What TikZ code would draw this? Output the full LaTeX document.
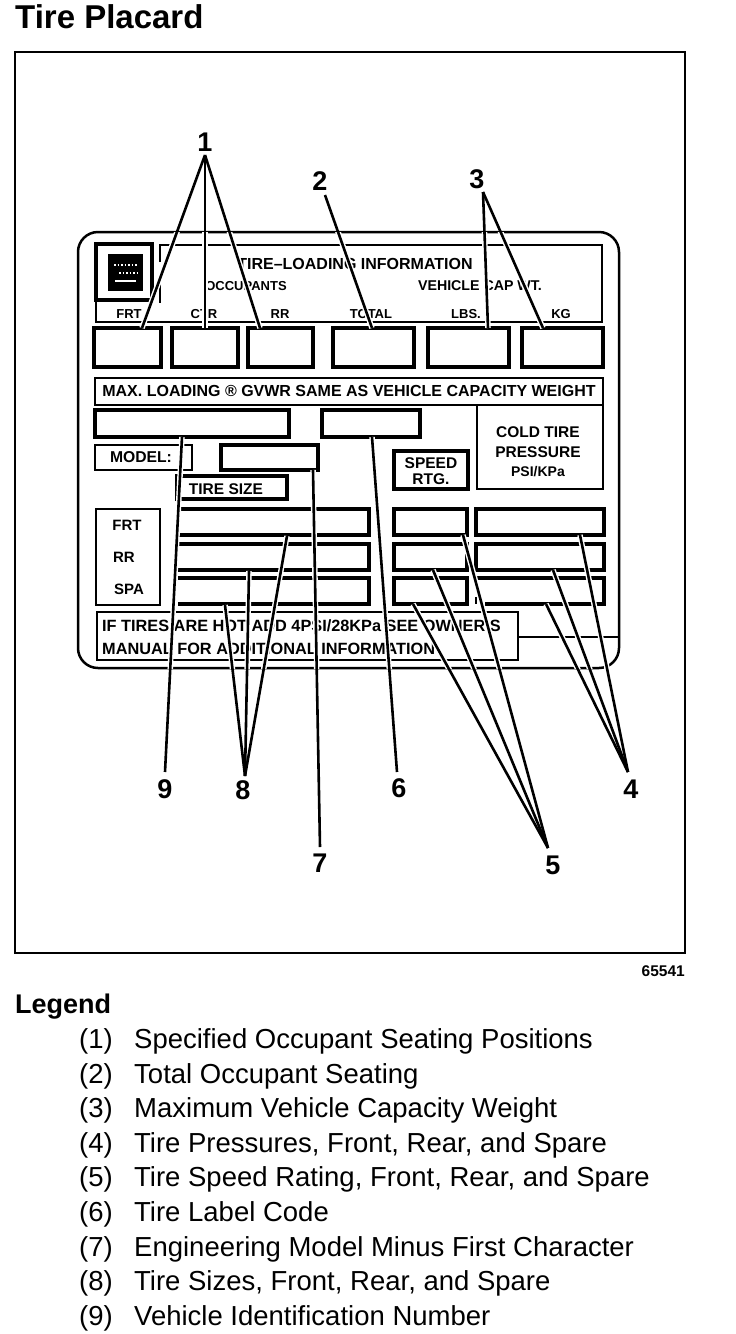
\documentclass[tikz,border=0pt]{standalone}
\usepackage{fontspec}
\setmainfont{Liberation Sans}
\newcommand{\fs}[1]{\fontsize{#1}{#1}\selectfont}
\tikzset{
  heavy/.style={draw=black,line width=3.5pt,fill=none,inner sep=0pt,outer sep=0pt,anchor=north west},
  thinbox/.style={draw=black,line width=2.5pt,fill=none,inner sep=0pt,outer sep=0pt,anchor=north west},
  ghost/.style={inner sep=0pt,outer sep=0pt,anchor=north west},
  plab/.style={font=\fs{13}\bfseries,inner sep=0pt,text=black},
  mlab/.style={font=\fs{16}\bfseries,inner sep=0pt,text=black},
  call/.style={font=\fs{27}\bfseries,inner sep=0pt,text=black},
  legnum/.style={font=\fs{27.5},inner sep=0pt,anchor=base west},
  halo/.style={draw=white,line width=5.5pt},
  leader/.style={draw=black,line width=2.6pt},
}
% style, name, x1, y1, x2, y2
\newcommand{\bx}[6]{\node[#1,minimum width={(#5-#3)*1pt},minimum height={(#6-#4)*1pt}] (#2) at (#3,#4) {};}
\newcommand{\leaderpaths}[1]{%
  \path[#1] (l1a) -- ([xshift=48pt]bfrt.north west);
  \path[#1] (l1a) -- ([xshift=33pt]bctr.north west);
  \path[#1] (l1a) -- ([xshift=12pt]brr.north west);
  \path[#1] (l2a) -- ([xshift=39pt]btot.north west);
  \path[#1] (l3a) -- ([xshift=60pt]blbs.north west);
  \path[#1] (l3a) -- ([xshift=21pt]bkg.north west);
  \path[#1] (l4a) -- ([xshift=104pt]pa.south west);
  \path[#1] (l4a) -- ([xshift=77pt]pb.south west);
  \path[#1] (l4a) -- ([xshift=70pt]pc.south west);
  \path[#1] (l5a) -- ([xshift=69pt]sa.south west);
  \path[#1] (l5a) -- ([xshift=39pt]sb.south west);
  \path[#1] (l5a) -- ([xshift=19pt]sc.south west);
  \path[#1] ([xshift=50pt]btl.south west) -- (l6a);
  \path[#1] ([xshift=92pt]bmod.south west) -- (l7a);
  \path[#1] (l8a) -- (t1);
  \path[#1] (l8a) -- (t2);
  \path[#1] (l8a) -- (t3);
  \path[#1] ([xshift=87pt]bvin.south west) -- (l9a);
}
\begin{document}
\begin{tikzpicture}[x=1pt,y=-1pt]
\useasboundingbox (0,0) rectangle (736,1334);
\fill[white] (0,0) rectangle (736,1334);
\node[font=\fs{33}\bfseries,anchor=base west,inner sep=0pt] (title) at (15,28) {Tire Placard};
\node[thinbox,minimum width=670pt,minimum height=901pt] (frame) at (15,52) {};
\node[font=\fs{15.5}\bfseries,anchor=base east,inner sep=0pt] (code) at (685,976) {65541};
% panel
\node[thinbox,rounded corners=20pt,minimum width=541pt,minimum height=436pt] (panel) at (78,232) {};
% header
\draw[line width=2.5pt] (160,262) -- (160,245) -- (602,245) -- (602,322) -- (96,322) -- (96,302);
\draw[line width=2.5pt] (160,283) -- (160,303);
\bx{heavy}{logo}{96}{244}{152}{300}
\fill[black] (108,254) rectangle (143,291);
\draw[white,line width=1.5pt] (115,281) -- (136,281);
\draw[white,line width=1.5pt,dotted] (114,265) -- (137,265);
\draw[white,line width=1.5pt,dotted] (119,273) -- (137,273);
\node[mlab] (hd) at (355,264) {TIRE–LOADING INFORMATION};
\node[plab] (occ) at (246,286) {OCCUPANTS};
\node[plab,font=\fs{14.2}\bfseries] (veh) at (480,286) {VEHICLE CAP WT.};
\node[plab] (tfrt) at (129,314) {FRT};
\node[plab] (tctr) at (204,314) {CTR};
\node[plab] (trr) at (280,314) {RR};
\node[plab] (ttot) at (371,314) {TOTAL};
\node[plab] (tlbs) at (466,314) {LBS.};
\node[plab] (tkg) at (561,314) {KG};
\bx{heavy}{bfrt}{94}{328}{161}{367}
\bx{heavy}{bctr}{172}{328}{238}{367}
\bx{heavy}{brr}{248}{328}{313}{367}
\bx{heavy}{btot}{333}{328}{414}{367}
\bx{heavy}{blbs}{428}{328}{509}{367}
\bx{heavy}{bkg}{522}{328}{603}{367}
% max loading
\bx{thinbox}{bmax}{95}{378}{603}{405}
\node[mlab] (tmax) at (349,391) {MAX. LOADING ® GVWR SAME AS VEHICLE CAPACITY WEIGHT};
\draw[line width=2.5pt] (477,405) -- (477,489) -- (603,489) -- (603,405);
\node[font=\fs{15.5}\bfseries,inner sep=0pt,align=center] (cold) at (538,452) {COLD TIRE\\[4pt]PRESSURE\\[4pt]{\fs{14}PSI/KPa}};
\bx{heavy}{bvin}{95}{410}{289}{437}
\bx{heavy}{btl}{322}{410}{420}{437}
\bx{thinbox}{bmodel}{95}{445}{192}{470}
\node[font=\fs{15.7}\bfseries,inner sep=0pt] (tmod) at (141,457) {MODEL:};
\bx{heavy}{bmod}{221}{445}{318}{470}
\bx{heavy}{bspd}{394}{451}{468}{489}
\node[font=\fs{15.5}\bfseries,inner sep=0pt,align=center] (tspd) at (431,471) {SPEED\\[1pt]RTG.};
\bx{heavy}{btsz}{177}{476}{287}{499}
\node[font=\fs{15.5}\bfseries,inner sep=0pt] (ttsz) at (226,489) {TIRE SIZE};
\bx{thinbox}{brow}{96}{509}{160}{605}
\node[font=\fs{15}\bfseries,inner sep=0pt] (rf) at (127,525) {FRT};
\node[font=\fs{15}\bfseries,inner sep=0pt] (rr) at (124,557) {RR};
\node[font=\fs{15}\bfseries,inner sep=0pt] (rs) at (129,589) {SPA};
% tyre-size rows (open left)
\draw[line width=3.5pt] (178,509) -- (369,509) -- (369,535) -- (178,535);
\draw[line width=3.5pt] (178,544) -- (369,544) -- (369,570) -- (178,570);
\draw[line width=3.5pt] (178,578) -- (369,578) -- (369,604) -- (178,604);
\coordinate (t1) at (287,536);
\coordinate (t2) at (249,571);
\coordinate (t3) at (225,605);
\bx{heavy}{sa}{394}{509}{467}{535}
\bx{heavy}{sb}{394}{544}{467}{570}
\bx{heavy}{sc}{394}{578}{467}{604}
\bx{heavy}{pa}{476}{509}{604}{535}
\bx{heavy}{pb}{476}{544}{604}{570}
\bx{ghost}{pc}{476}{578}{604}{604}
\draw[line width=3.5pt] (476,578) -- (604,578) -- (604,604) -- (485,604);
\draw[line width=2.5pt] (476,597) -- (476,604);
% bottom note
\draw[line width=2.5pt] (619,637) -- (518,637);
\bx{thinbox}{bnote}{97}{612}{518}{660}
\node[mlab,font=\fs{16.3}\bfseries,anchor=base west] (n1) at (102,631) {IF TIRES ARE HOT ADD 4PSI/28KPa SEE OWNER'S};
\node[mlab,font=\fs{16.3}\bfseries,anchor=base west] (n2) at (102,654) {MANUAL FOR ADDITIONAL INFORMATION};
% callouts
\node[call] (l1) at (205,142) {1};
\node[call] (l2) at (320,181) {2};
\node[call] (l3) at (477,179) {3};
\node[call] (l4) at (631,789) {4};
\node[call] (l5) at (553,865) {5};
\node[call] (l6) at (399,788) {6};
\node[call] (l7) at (320,863) {7};
\node[call] (l8) at (243,790) {8};
\node[call] (l9) at (165,789) {9};
\coordinate (l1a) at (205,155);
\coordinate (l2a) at (325,195);
\coordinate (l3a) at (483,192);
\coordinate (l4a) at (628,772);
\coordinate (l5a) at (548,848);
\coordinate (l6a) at (397,772);
\coordinate (l7a) at (320,847);
\coordinate (l8a) at (245,776);
\coordinate (l9a) at (165,772);
\begin{scope}
\clip (78,232) rectangle (619,668);
\leaderpaths{halo}
\end{scope}
\leaderpaths{leader}
% legend
\node[font=\fs{27}\bfseries,anchor=base west,inner sep=0pt] (leg) at (15,1013) {Legend};
\foreach \n/\y/\t in {1/1048/Specified Occupant Seating Positions,2/1083/Total Occupant Seating,3/1117/Maximum Vehicle Capacity Weight,4/1152/{Tire Pressures, Front, Rear, and Spare},5/1186/{Tire Speed Rating, Front, Rear, and Spare},6/1221/Tire Label Code,7/1256/Engineering Model Minus First Character,8/1290/{Tire Sizes, Front, Rear, and Spare},9/1325/Vehicle Identification Number}{
  \node[legnum] (ln\n) at (79,\y) {(\n)};
  \node[legnum] (lt\n) at (134,\y) {\t};
}
\end{tikzpicture}
\end{document}
